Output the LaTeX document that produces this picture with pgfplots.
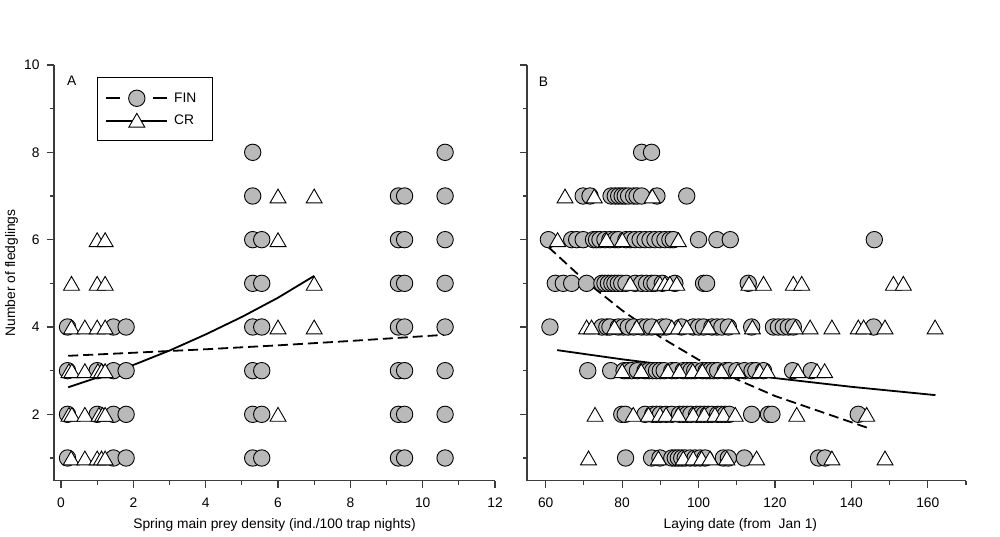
\documentclass[border=0pt]{standalone}
\usepackage{pgfplots}
\pgfplotsset{compat=1.18}
\usepackage{fontspec}
\setmainfont{Liberation Sans}
\definecolor{fing}{RGB}{185,185,185}
\definecolor{axc}{RGB}{60,60,60}
\pgfplotsset{
 myax/.style={
  scale only axis, anchor=south west,
  height=415.7pt,
  axis lines=left, axis line style={-, axc, line width=1.1pt},
  tick style={axc, line width=1.1pt},
  tick align=outside,
  major tick length=7pt, minor tick length=4pt,
  ymin=0.48, ymax=10,
  ytick={2,4,...,10}, minor ytick={1,3,...,9},
  font=\fontsize{13.8}{16}\selectfont,
  /pgf/number format/assume math mode=true,
  xticklabel style={yshift=-7pt},
  yticklabel style={xshift=-4pt},
  clip=false,
  every axis x label/.style={at={(axis description cs:0.5,-0.1066)}, anchor=center},
  every axis y label/.style={at={(axis description cs:-0.096,0.5)}, rotate=90, anchor=center},
 },
 fin/.style={only marks, mark=*, mark size=8.2pt, mark options={fill=fing, draw=black, line width=0.9pt}},
 cr/.style={only marks, mark=triangle*, mark size=9.2pt, mark options={fill=white, draw=black, line width=0.9pt, yshift=-2.3pt}},
 fitdash/.style={black, line width=1.8pt, dash pattern=on 10pt off 5pt, no marks},
 fitsolid/.style={black, line width=1.8pt, no marks},
}
\begin{document}
\begin{tikzpicture}
\useasboundingbox (0,0) rectangle (1000pt,536pt);
% ---------------- Panel A ----------------
\begin{axis}[myax, at={(54pt,55.3pt)}, width=441pt,
  xmin=-0.194, xmax=12,
  xtick={0,2,...,12}, minor xtick={1,3,...,11},
  xlabel={Spring main prey density (ind./100 trap nights)},
  ylabel={Number of fledglings},
  legend style={at={(axis cs:0.987,9.72)}, anchor=north west, draw=black, line width=0.8pt,
     inner xsep=8.3pt, inner ysep=12pt, row sep=6pt, column sep=4pt,
     font=\fontsize{13.8}{16}\selectfont},
  legend cell align=left,
]
\addplot[fin, forget plot] coordinates {
(5.3,8) (10.62,8)
(5.3,7) (9.33,7) (9.5,7) (10.62,7)
(5.3,6) (5.55,6) (9.33,6) (9.5,6) (10.62,6)
(5.3,5) (5.55,5) (9.33,5) (9.5,5) (10.62,5)
(0.18,4) (1.45,4) (1.8,4) (5.3,4) (5.55,4) (9.33,4) (9.5,4) (10.62,4)
(0.18,3) (1.0,3) (1.45,3) (1.8,3) (5.3,3) (5.55,3) (9.33,3) (9.5,3) (10.62,3)
(0.18,2) (1.0,2) (1.45,2) (1.8,2) (5.3,2) (5.55,2) (9.33,2) (9.5,2) (10.62,2)
(0.18,1) (1.45,1) (1.8,1) (5.3,1) (5.55,1) (9.33,1) (9.5,1) (10.62,1)
};
\addplot[cr, forget plot] coordinates {
(6.0,7) (7.0,7)
(1.0,6) (1.22,6) (6.0,6)
(0.29,5) (1.0,5) (1.22,5) (7.0,5)
(0.29,4) (0.66,4) (1.0,4) (1.22,4) (6.0,4) (7.0,4)
(0.22,3) (0.3,3) (0.66,3) (1.02,3) (1.12,3) (1.22,3)
(0.22,2) (0.3,2) (0.66,2) (1.05,2) (1.15,2) (1.22,2) (6.0,2)
(0.28,1) (0.66,1) (1.0,1) (1.12,1) (1.22,1)
};
\addplot[fitdash, forget plot] coordinates {(0.2,3.34) (2,3.41) (4,3.49) (6,3.58) (8,3.68) (10.6,3.82)};
\addplot[fitsolid, forget plot] coordinates {(0.2,2.62) (1,2.84) (2,3.13) (3,3.46) (4,3.83) (5,4.23) (6,4.67) (7,5.17)};
\addlegendimage{legend image code/.code={
  \draw[black, line width=1.8pt] (0pt,0pt) -- (14pt,0pt);
  \draw[black, line width=1.8pt] (47pt,0pt) -- (61pt,0pt);
  \draw[fill=fing, draw=black, line width=0.9pt] (30.5pt,0pt) circle (8.2pt);
}}
\addlegendentry{FIN\hspace*{6pt}}
\addlegendimage{legend image code/.code={
  \draw[black, line width=1.8pt] (0pt,0pt) -- (61pt,0pt);
  \draw[fill=white, draw=black, line width=0.9pt] (22.5pt,-6.5pt) -- (38.5pt,-6.5pt) -- (30.5pt,7.3pt) -- cycle;
}}
\addlegendentry{CR}
\node[anchor=center] at (axis cs:0.296,9.65) {A};
\end{axis}
% ---------------- Panel B ----------------
\begin{axis}[myax, at={(527pt,55.3pt)}, width=439pt,
  xmin=55.1, xmax=170,
  xtick={60,80,...,160}, minor xtick={70,90,...,170},
  yticklabels={},
  xlabel={Laying date (from\ \ Jan 1)},
  every axis x label/.style={at={(axis description cs:0.486,-0.1066)}, anchor=center},
]
\addplot[fin] coordinates {
(85.1,8) (87.7,8)
(69.8,7) (71.6,7) (77.1,7) (78.2,7) (79.1,7) (80.0,7) (80.8,7) (81.7,7) (83.0,7) (83.9,7) (85.1,7) (89.1,7) (96.9,7)
(60.7,6) (66.8,6) (68.1,6) (69.8,6) (72.5,6) (73.3,6) (74.2,6) (75.5,6) (76.8,6) (78.1,6) (79,6) (81,6) (82.1,6) (83.4,6) (84.7,6) (86.0,6) (87.3,6) (88.6,6) (89.9,6) (91.2,6) (92.5,6) (93.4,6) (100.0,6) (104.8,6) (108.3,6) (146.0,6)
(62.5,5) (64.6,5) (66.8,5) (70.7,5) (74.7,5) (75.5,5) (76.4,5) (77.3,5) (78.1,5) (79.0,5) (79.9,5) (81,5) (83.4,5) (85.1,5) (86.4,5) (87.7,5) (88.6,5) (90.5,5) (93.8,5) (101.3,5) (102.1,5) (113.0,5)
(61.1,4) (74.7,4) (76.0,4) (76.8,4) (79.0,4) (80.3,4) (81.6,4) (83,4) (85.1,4) (86.4,4) (87.7,4) (90.4,4) (91.5,4) (95.5,4) (98.6,4) (100.0,4) (101.3,4) (103.5,4) (104.8,4) (106.1,4) (107.8,4) (113.9,4) (119.6,4) (120.9,4) (122.2,4) (123.5,4) (124.8,4) (145.8,4)
(71,3) (77,3) (80.5,3) (81.5,3) (82.5,3) (84,3) (86,3) (87,3) (88,3) (89,3) (90,3) (91,3) (93,3) (94,3) (96,3) (97,3) (98,3) (99,3) (101,3) (102,3) (103,3) (104,3) (105,3) (107,3) (108,3) (110,3) (112,3) (114,3) (115,3) (117,3) (124.6,3) (129.5,3)
(79.9,2) (80.8,2) (86,2) (88,2) (89,2) (90,2) (91.5,2) (93,2) (95,2) (96,2) (97,2) (98,2) (99.5,2) (100.5,2) (101.5,2) (102.5,2) (103.5,2) (105,2) (106,2) (107,2) (108,2) (113.9,2) (118.3,2) (119.2,2) (141.8,2)
(80.9,1) (87.7,1) (89.9,1) (93.0,1) (93.9,1) (94.7,1) (95.6,1) (96.5,1) (97.8,1) (99.1,1) (100.4,1) (101.7,1) (106.5,1) (107.8,1) (112.0,1) (131.4,1) (133.1,1)
};
\addplot[cr] coordinates {
(65.05,7) (72.7,7) (87.9,7)
(63.1,6) (75.9,6) (80.05,6) (94.7,6)
(82.1,5) (89.9,5) (91.2,5) (92.5,5) (94.3,5) (113.2,5) (117.0,5) (124.8,5) (127.0,5) (151.0,5) (153.6,5)
(70.7,4) (72.0,4) (78.0,4) (83.8,4) (89.0,4) (93.0,4) (94.7,4) (96.9,4) (102.6,4) (108.7,4) (114.1,4) (125.3,4) (129.2,4) (134.9,4) (141.8,4) (143.2,4) (148.8,4) (161.9,4)
(80,3) (85,3) (92,3) (95,3) (98.5,3) (101,3) (106,3) (110.3,3) (116,3) (118,3) (126,3) (131,3) (133,3)
(72.9,2) (82.9,2) (86.9,2) (89.9,2) (91.5,2) (94.7,2) (98.6,2) (101.5,2) (104.3,2) (106.5,2) (109.6,2) (125.7,2) (144.0,2)
(71.2,1) (89.5,1) (96.0,1) (98.6,1) (100.8,1) (103.0,1) (107.4,1) (115.2,1) (134.9,1) (148.8,1)
};
\addplot[fitdash] coordinates {(60.7,5.83) (70,5.08) (80,4.38) (90,3.77) (100,3.25) (110,2.80) (120,2.42) (130,2.12) (144.6,1.68)};
\addplot[fitsolid] coordinates {(63,3.47) (80,3.26) (100,3.04) (120,2.83) (140,2.63) (162,2.44)};
\node[anchor=center] at (axis cs:59.4,9.62) {B};
\end{axis}
\end{tikzpicture}
\end{document}
